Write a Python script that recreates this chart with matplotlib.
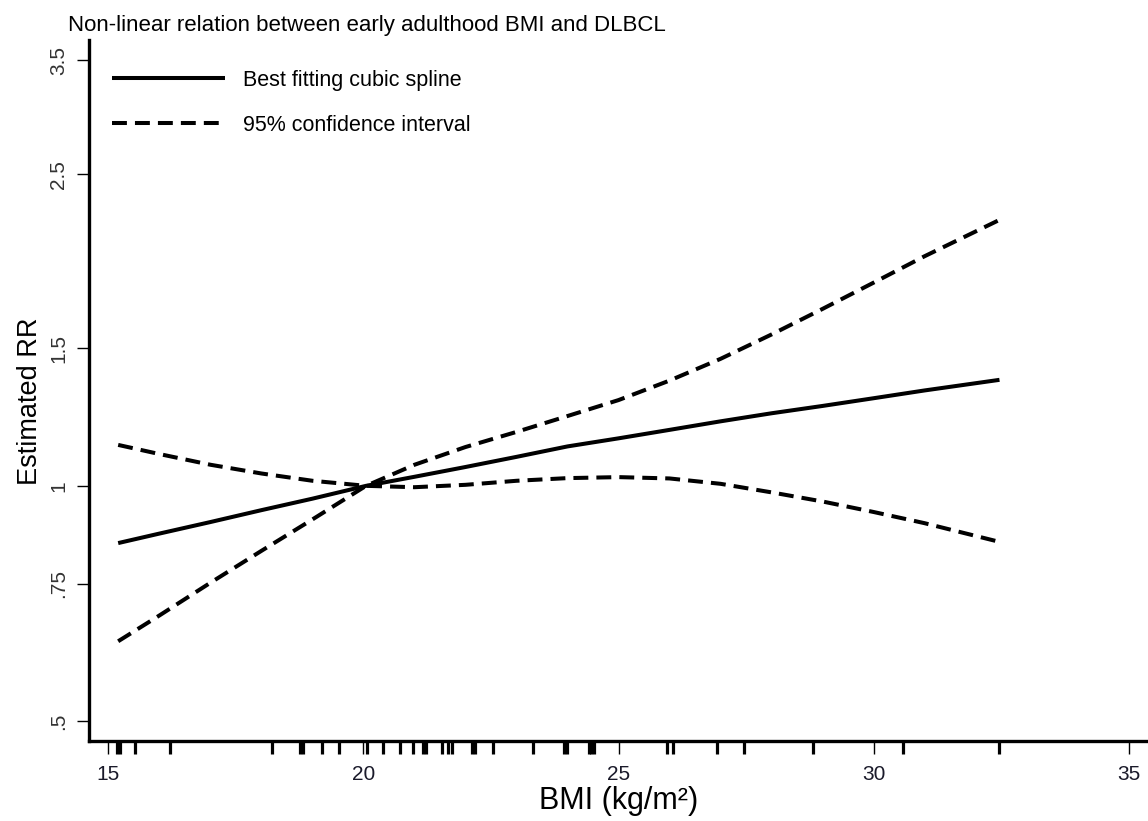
import matplotlib
matplotlib.use("Agg")
import matplotlib.pyplot as plt
from matplotlib import font_manager
from matplotlib.ticker import NullLocator

# ---- data ----
bmi = [15.19, 16, 17, 18, 19, 20.05, 21, 22, 23, 24, 25, 26, 27, 28, 29, 30, 31, 32.47]
rr_fit = [0.845, 0.869, 0.899, 0.931, 0.963, 1.0, 1.027, 1.057, 1.089, 1.123, 1.150,
          1.179, 1.209, 1.238, 1.265, 1.294, 1.324, 1.366]
rr_upper = [0.633, 0.683, 0.752, 0.826, 0.906, 1.0, 1.064, 1.121, 1.172, 1.228, 1.287,
            1.363, 1.453, 1.561, 1.683, 1.818, 1.965, 2.187]
rr_lower = [1.128, 1.098, 1.064, 1.037, 1.015, 1.0, 0.996, 1.003, 1.015, 1.023, 1.026,
            1.022, 1.006, 0.981, 0.955, 0.926, 0.896, 0.848]
rug_bmi = [15.17, 15.22, 15.52, 16.21, 18.2, 18.76, 18.82, 19.18, 19.51, 20.07, 20.39,
           20.72, 20.98, 21.16, 21.22, 21.53, 21.66, 21.73, 22.12, 22.18, 22.53, 23.32,
           23.94, 24.0, 24.42, 24.47, 24.52, 25.95, 26.07, 26.93, 27.47, 28.82, 30.58, 32.47]
x_ticks = [15, 20, 25, 30, 35]
y_ticks = [0.5, 0.75, 1, 1.5, 2.5, 3.5]
y_ticklabels = [".5", ".75", "1", "1.5", "2.5", "3.5"]
title = "Non-linear relation between early adulthood BMI and DLBCL"
legend_labels = ["Best fitting cubic spline", "95% confidence interval"]

available = {f.name for f in font_manager.fontManager.ttflist}
narrow = "Liberation Sans Narrow" if "Liberation Sans Narrow" in available else "Liberation Sans"
plt.rcParams["font.family"] = ["Liberation Sans", "DejaVu Sans"]

W, H = 1148, 821
fig = plt.figure(figsize=(W / 100, H / 100), dpi=100)
left, right, bottom, top = 89, 1148, 741, 40
ax = fig.add_axes([left / W, (H - bottom) / H, (right - left) / W, (bottom - top) / H])

lw = 2.9
dash = (3.7, 2.0)
ax.plot(bmi, rr_fit, color="black", lw=lw, solid_capstyle="butt", label=legend_labels[0])
ax.plot(bmi, rr_upper, color="black", lw=lw, dashes=dash, label=legend_labels[1])
ax.plot(bmi, rr_lower, color="black", lw=lw, dashes=dash)

ax.set_yscale("log")
ax.set_xlim(14.618, 35.382)
ax.set_ylim(0.472, 3.713)
ax.set_yticks(y_ticks)
ax.set_yticklabels(y_ticklabels, rotation=90, va="center")
ax.yaxis.set_minor_locator(NullLocator())
ax.set_xticks(x_ticks)
ax.set_xticks(rug_bmi, minor=True)

for s in ["top", "right"]:
    ax.spines[s].set_visible(False)
for s in ["left", "bottom"]:
    ax.spines[s].set_linewidth(2.4)
    ax.spines[s].set_capstyle("projecting")

ax.tick_params(axis="y", which="major", length=9, width=1.0, pad=6, labelsize=15,
               labelcolor="#333333")
ax.tick_params(axis="x", which="major", length=9, width=1.0, pad=8, labelsize=15,
               labelcolor="#1a1a2a")
ax.tick_params(axis="x", which="minor", length=9, width=2.3)

ax.set_ylabel("Estimated RR", fontsize=19.5)
ax.yaxis.set_label_coords(-46 / (right - left), (bottom - 401) / (bottom - top))
ax.set_xlabel("BMI (kg/m²)", fontsize=22, labelpad=2)

fig.text(68 / W, 1 - 25 / H, title, fontsize=16, family=[narrow, "DejaVu Sans"],
         va="center", ha="left")

leg = ax.legend(loc="upper left", bbox_to_anchor=(23 / (right - left), 1 - 30 / (bottom - top)),
                frameon=False, borderpad=0, borderaxespad=0, handlelength=5.25,
                handletextpad=0.85, labelspacing=1.11,
                prop={"family": [narrow, "DejaVu Sans"], "size": 15.5})

fig.savefig("out.png", dpi=100)
